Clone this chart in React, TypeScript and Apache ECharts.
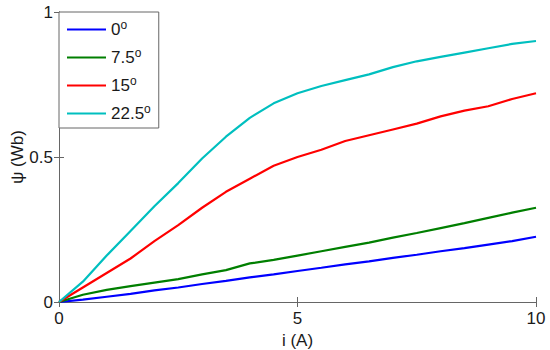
import React, { useEffect, useRef } from "react";
import * as echarts from "echarts";

const current = [0, 0.5, 1, 1.5, 2, 2.5, 3, 3.5, 4, 4.5, 5, 5.5, 6, 6.5, 7, 7.5, 8, 8.5, 9, 9.5, 10];
const psi0 = [0, 0.008, 0.018, 0.028, 0.04, 0.05, 0.062, 0.073, 0.085, 0.095, 0.107, 0.118, 0.13, 0.14, 0.152, 0.163, 0.175, 0.186, 0.198, 0.21, 0.225];
const psi75 = [0, 0.025, 0.042, 0.055, 0.067, 0.079, 0.095, 0.11, 0.133, 0.145, 0.16, 0.175, 0.19, 0.205, 0.222, 0.238, 0.255, 0.272, 0.29, 0.308, 0.325];
const psi15 = [0, 0.05, 0.1, 0.15, 0.21, 0.265, 0.325, 0.38, 0.425, 0.47, 0.5, 0.525, 0.555, 0.575, 0.595, 0.615, 0.64, 0.66, 0.675, 0.7, 0.72];
const psi225 = [0, 0.07, 0.16, 0.245, 0.33, 0.41, 0.495, 0.57, 0.635, 0.685, 0.72, 0.745, 0.765, 0.785, 0.81, 0.83, 0.845, 0.86, 0.875, 0.89, 0.9];

const seriesNames = ["0", "7.5", "15", "22.5"];
const seriesColors = ["#0000ff", "#007f00", "#ff0000", "#00bfbf"];
const seriesValues = [psi0, psi75, psi15, psi225];

const xTicks = [0, 5, 10];
const yTicks = [0, 0.5, 1];

export default function App() {
  const ref = useRef<HTMLDivElement>(null);
  useEffect(() => {
    if (!ref.current) return;
    const chart = echarts.init(ref.current, null, { renderer: "svg" });
    const font = "Liberation Sans, Arial, sans-serif";
    const axisColor = "#666666";
    const textColor = "#1a1a1a";
    chart.setOption({
      animation: false,
      backgroundColor: "#ffffff",
      textStyle: { fontFamily: font },
      grid: { left: 59, right: 14, top: 12, bottom: 48, containLabel: false, outerBoundsMode: "none" },
      legend: {
        orient: "vertical",
        left: 59,
        top: 12,
        padding: [7, 8, 6, 7],
        itemGap: 9,
        itemWidth: 39,
        itemHeight: 14,
        borderColor: axisColor,
        borderWidth: 1,
        backgroundColor: "#ffffff",
        itemStyle: { opacity: 0 },
        data: seriesNames,
        formatter: (name: string) => `${name}{s|o}`,
        textStyle: {
          fontFamily: font,
          fontSize: 17,
          color: textColor,
          rich: {
            s: { fontSize: 12, verticalAlign: "top", padding: [0, 0, 9, 0], fontFamily: font, color: textColor },
          },
        },
      },
      xAxis: [
        {
          type: "value",
          min: xTicks[0],
          max: xTicks[xTicks.length - 1],
          interval: 5,
          name: "i (A)",
          nameLocation: "middle",
          nameGap: 30,
          nameMoveOverlap: false,
          nameTextStyle: { fontSize: 17, color: textColor, fontFamily: font },
          axisLine: { show: true, lineStyle: { color: axisColor, width: 1 } },
          axisTick: { show: true, inside: true, length: 5, lineStyle: { color: axisColor } },
          axisLabel: { fontSize: 17, color: textColor, margin: 8, fontFamily: font },
          splitLine: { show: false },
        },
        {
          type: "value",
          position: "top",
          min: xTicks[0],
          max: xTicks[xTicks.length - 1],
          interval: 5,
          axisLine: { show: true, lineStyle: { color: axisColor, width: 1 } },
          axisTick: { show: true, inside: true, length: 5, lineStyle: { color: axisColor } },
          axisLabel: { show: false },
          splitLine: { show: false },
        },
      ],
      yAxis: [
        {
          type: "value",
          min: yTicks[0],
          max: yTicks[yTicks.length - 1],
          interval: 0.5,
          name: "ψ (Wb)",
          nameLocation: "middle",
          nameGap: 33,
          nameMoveOverlap: false,
          nameRotate: 90,
          nameTextStyle: { fontSize: 17, color: textColor, fontFamily: font },
          axisLine: { show: true, lineStyle: { color: axisColor, width: 1 } },
          axisTick: { show: true, inside: true, length: 5, lineStyle: { color: axisColor } },
          axisLabel: { fontSize: 17, color: textColor, margin: 6, fontFamily: font },
          splitLine: { show: false },
        },
        {
          type: "value",
          position: "right",
          min: yTicks[0],
          max: yTicks[yTicks.length - 1],
          interval: 0.5,
          axisLine: { show: true, lineStyle: { color: axisColor, width: 1 } },
          axisTick: { show: true, inside: true, length: 5, lineStyle: { color: axisColor } },
          axisLabel: { show: false },
          splitLine: { show: false },
        },
      ],
      series: seriesNames.map((name, k) => ({
        name,
        type: "line",
        xAxisIndex: 0,
        yAxisIndex: 0,
        symbol: "none",
        showSymbol: false,
        lineStyle: { color: seriesColors[k], width: 2.2 },
        itemStyle: { color: seriesColors[k] },
        data: current.map((x, i) => [x, seriesValues[k][i]]),
      })),
    });
    return () => chart.dispose();
  }, []);
  return (
    <div
      ref={ref}
      style={{ position: "absolute", left: 0, top: 0, width: 550, height: 350 }}
    />
  );
}
